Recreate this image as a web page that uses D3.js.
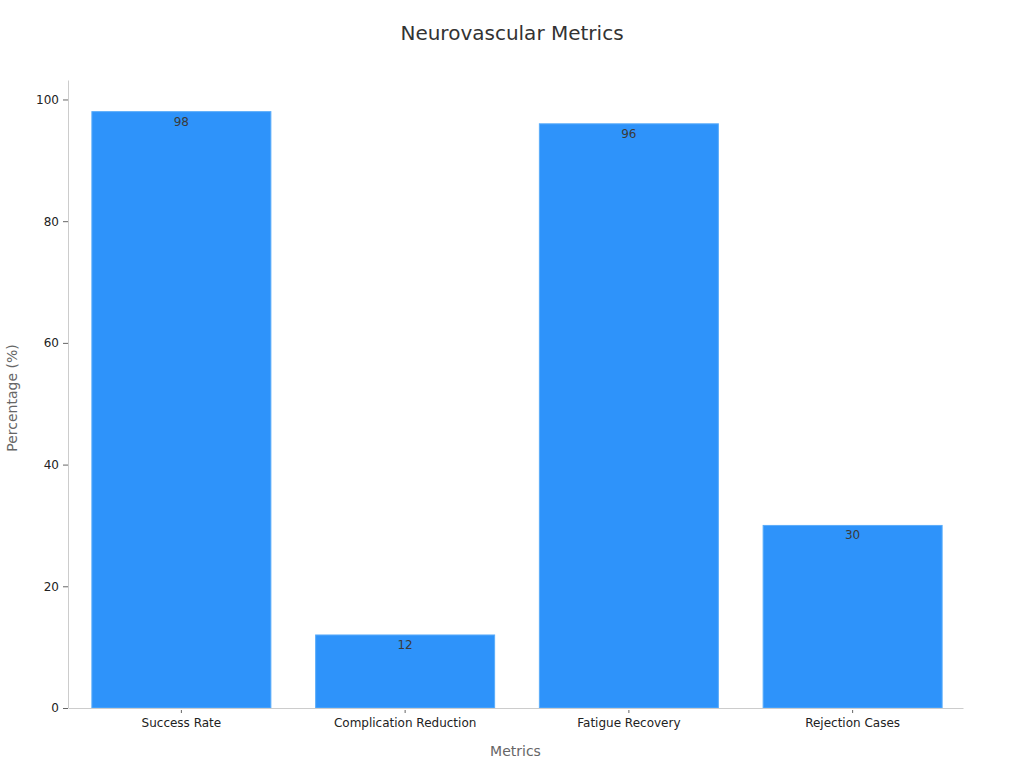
<!DOCTYPE html>
<html>
<head>
<meta charset="utf-8">
<script src="https://cdn.jsdelivr.net/npm/d3@7"></script>
<style>
  body { margin: 0; background: #fff; }
  svg { font-family: "DejaVu Sans", sans-serif; }
</style>
</head>
<body>
<div id="chart"></div>
<script>
var categories = ["Success Rate", "Complication Reduction", "Fatigue Recovery", "Rejection Cases"];
var values = [98, 12, 96, 30];
var yTicks = [0, 20, 40, 60, 80, 100];

var width = 1024, height = 768;
var margin = {top: 80, right: 61, bottom: 60, left: 68};
var innerW = width - margin.left - margin.right;
var innerH = height - margin.top - margin.bottom;

var svg = d3.select("#chart").append("svg")
  .attr("width", width)
  .attr("height", height);

var g = svg.append("g")
  .attr("transform", "translate(" + margin.left + "," + margin.top + ")");

var x = d3.scaleBand().domain(categories).range([1.5, innerW + 1.5]).paddingInner(0.2).paddingOuter(0.1);
var y = d3.scaleLinear().domain([0, 103.2]).range([innerH, 0]);

// bars
g.selectAll("rect.bar")
  .data(values)
  .enter().append("rect")
  .attr("class", "bar")
  .attr("x", function(d, i) { return x(categories[i]); })
  .attr("y", function(d) { return y(d); })
  .attr("width", x.bandwidth())
  .attr("height", function(d) { return innerH - y(d); })
  .attr("fill", "#2e93fa")
  .attr("stroke", "#5aacfa")
  .attr("stroke-width", 1);

// value labels
g.selectAll("text.val")
  .data(values)
  .enter().append("text")
  .attr("class", "val")
  .attr("x", function(d, i) { return x(categories[i]) + x.bandwidth() / 2; })
  .attr("y", function(d) { return y(d) + 14; })
  .attr("text-anchor", "middle")
  .attr("font-size", 12)
  .attr("fill", "#3a3a3a")
  .text(function(d) { return d; });

// y axis
var yAxis = g.append("g")
  .call(d3.axisLeft(y).tickValues(yTicks).tickSize(5).tickPadding(4));
yAxis.select(".domain").attr("stroke", "#ccc").attr("d", "M0.5," + innerH + "V0.5");
yAxis.selectAll(".tick line").attr("stroke", "#666");
yAxis.selectAll(".tick text").attr("font-size", 12).attr("fill", "#222").attr("font-family", "DejaVu Sans");

// x axis
var xAxis = g.append("g")
  .attr("transform", "translate(0," + innerH + ")")
  .call(d3.axisBottom(x).tickSize(0).tickPadding(10));
xAxis.select(".domain").attr("stroke", "#ccc").attr("d", "M0.5,0.5H" + (innerW + 0.5));
xAxis.selectAll(".tick").append("line")
  .attr("y1", 2).attr("y2", 5)
  .attr("stroke", "#666");
xAxis.selectAll(".tick text").attr("font-size", 12).attr("fill", "#222").attr("font-family", "DejaVu Sans").attr("dy", "0.71em");

// title
svg.append("text")
  .attr("x", width / 2)
  .attr("y", 40)
  .attr("text-anchor", "middle")
  .attr("font-size", 20)
  .attr("fill", "#333")
  .text("Neurovascular Metrics");

// axis titles
svg.append("text")
  .attr("x", margin.left + innerW / 2)
  .attr("y", 756)
  .attr("text-anchor", "middle")
  .attr("font-size", 14)
  .attr("fill", "#666")
  .text("Metrics");

svg.append("text")
  .attr("transform", "translate(17," + (margin.top + innerH / 2 + 4) + ") rotate(-90)")
  .attr("text-anchor", "middle")
  .attr("font-size", 14)
  .attr("fill", "#666")
  .text("Percentage (%)");
</script>
</body>
</html>
